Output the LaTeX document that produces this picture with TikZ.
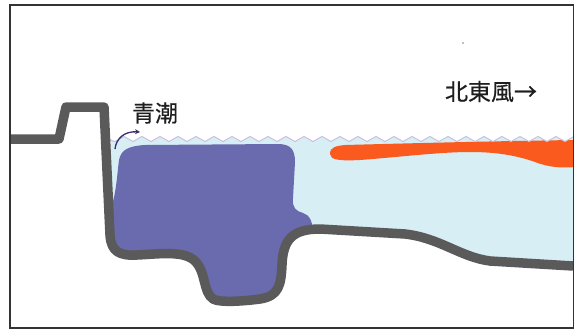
\documentclass[tikz,border=0pt]{standalone}
\usepackage{fontspec}
\newfontfamily\jpfont[FakeBold=0.5]{Noto Sans CJK JP}
\usetikzlibrary{arrows.meta}
\definecolor{seawater}{HTML}{D6EEF4}
\definecolor{bluetide}{HTML}{6A6AAE}
\definecolor{warmlayer}{HTML}{FA5A1E}
\definecolor{wallgray}{HTML}{5A5A5A}
\definecolor{wavelilac}{HTML}{C8C0E0}
\definecolor{swirlpurple}{HTML}{3B2C6E}
\definecolor{inkblack}{HTML}{1E1E1E}

% the basin floor, from the foot of the quay wall out to the right edge
\newcommand{\basinfloor}{(110,235)
  .. controls (111,252) and (120,256) .. (137,255)
  .. controls (160,254) and (185,250) .. (196,262)
  .. controls (206,273) and (203,292) .. (213,299)
  .. controls (220,303) and (245,301) .. (260,299)
  .. controls (279,296) and (281,285) .. (282,265)
  .. controls (283,240) and (292,229) .. (320,229)
  -- (405,234)
  .. controls (440,238) and (460,257) .. (490,261)}
\newcommand{\waterbody}{(105,139) -- \basinfloor -- (574,266) -- (574,139)
  \foreach \i in {0,...,52} { -- ({574-9*\i},{136.5+5*mod(\i,2)}) } -- cycle}

\begin{document}
\begin{tikzpicture}[x=1pt, y=-1pt, >={Stealth[length=5pt, width=5pt]},
  seabed/.style={draw=wallgray, line width=9.5pt, line join=round},
  waveline/.style={draw=wavelilac, line width=1pt, line join=miter},
  tag/.style={font=\jpfont\fontsize{23}{23}\selectfont, text=inkblack, inner sep=0pt}]
\useasboundingbox (0,0) rectangle (575,330);

\fill[seawater] \waterbody;
\begin{scope}
\clip \waterbody;
\fill[bluetide] (108,215) .. controls (116,200) and (117,175) .. (119,160)
  .. controls (121,150) and (128,146) .. (145,145)
  -- (278,144) .. controls (291,144) and (295,150) .. (295,162)
  -- (293,198) .. controls (292,208) and (296,211) .. (303,213)
  .. controls (310,215) and (313,222) .. (313,235)
  -- (313,320) -- (108,320) -- cycle;
\fill[warmlayer] (330,154) .. controls (330,147) and (336,146) .. (345,145)
  .. controls (420,143) and (500,141) .. (575,140) -- (575,167)
  .. controls (565,168) and (550,168) .. (535,162)
  .. controls (515,155) and (495,152) .. (470,152)
  .. controls (440,152) and (400,157) .. (360,160)
  .. controls (340,161) and (330,160) .. (330,154);
\end{scope}

\draw[waveline] (106,139) \foreach \i in {1,...,52} { -- ({106+9*\i},{136.5+5*mod(\i,2)}) };

\draw[seabed] (11,139) -- (59,139) -- (66,107) -- (104,107) -- \basinfloor -- (573,266);

\coordinate (swirl) at (115,149);
\coordinate (swirltip) at (140,132);
\draw[->, draw=swirlpurple, line width=1.3pt] (swirl) .. controls (116,139) and (124,131) .. (swirltip);

\node[tag] (aoshio) at (155,113) {青潮};
\node[tag] (wind) at (491,91.5) {北東風→};

\fill[gray] (463,43) circle (0.9);
\draw[draw=black!80, line width=1.4pt] (10,5) rectangle (573.5,328);
\end{tikzpicture}
\end{document}
